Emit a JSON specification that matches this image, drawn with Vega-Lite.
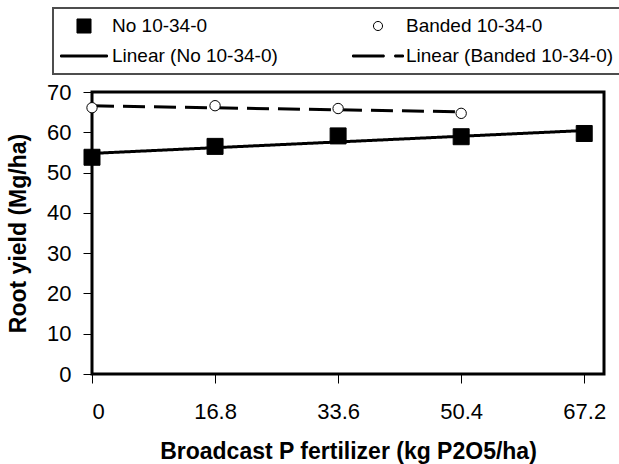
{
  "$schema": "https://vega.github.io/schema/vega-lite/v6.json",
  "width": 512,
  "height": 282,
  "autosize": {"type": "none"},
  "padding": {"left": 92, "top": 92, "right": 15, "bottom": 90},
  "background": "white",
  "config": {
    "view": {"stroke": "black", "strokeWidth": 3},
    "font": "Liberation Sans",
    "axis": {
      "labelFont": "Liberation Sans",
      "labelFontSize": 22,
      "labelColor": "black",
      "titleFont": "Liberation Sans",
      "titleFontSize": 23,
      "titleFontWeight": "bold",
      "titleColor": "black",
      "tickColor": "black",
      "tickWidth": 1,
      "tickSize": 9,
      "domain": false,
      "grid": false
    },
    "legend": {
      "orient": "none",
      "direction": "horizontal",
      "legendX": -39,
      "legendY": -84,
      "columns": 2,
      "padding": 8,
      "strokeColor": "#4d4d4d",
      "strokeWidth": 2,
      "symbolSize": 361,
      "symbolStrokeColor": "black",
      "symbolStrokeWidth": 1,
      "symbolOpacity": 1,
      "symbolOffset": 13,
      "labelFont": "Liberation Sans",
      "labelFontSize": 19,
      "labelColor": "black",
      "labelOffset": 18,
      "labelLimit": 400,
      "rowPadding": 10,
      "columnPadding": 72
    }
  },
  "data": {
    "values": [
      {"p": 0, "yield": 53.8, "series": "No 10-34-0", "trend": "Linear (No 10-34-0)"},
      {"p": 16.8, "yield": 56.5, "series": "No 10-34-0", "trend": "Linear (No 10-34-0)"},
      {"p": 33.6, "yield": 59.1, "series": "No 10-34-0", "trend": "Linear (No 10-34-0)"},
      {"p": 50.4, "yield": 58.9, "series": "No 10-34-0", "trend": "Linear (No 10-34-0)"},
      {"p": 67.2, "yield": 59.7, "series": "No 10-34-0", "trend": "Linear (No 10-34-0)"},
      {"p": 0, "yield": 66.1, "series": "Banded 10-34-0", "trend": "Linear (Banded 10-34-0)"},
      {"p": 16.8, "yield": 66.6, "series": "Banded 10-34-0", "trend": "Linear (Banded 10-34-0)"},
      {"p": 33.6, "yield": 65.9, "series": "Banded 10-34-0", "trend": "Linear (Banded 10-34-0)"},
      {"p": 50.4, "yield": 64.7, "series": "Banded 10-34-0", "trend": "Linear (Banded 10-34-0)"}
    ]
  },
  "encoding": {
    "x": {
      "field": "p",
      "type": "quantitative",
      "scale": {"domain": [0, 69.9], "nice": false, "zero": false},
      "axis": {
        "values": [0, 16.8, 33.6, 50.4, 67.2],
        "format": ".1~f",
        "labelPadding": 18,
        "titlePadding": 18,
        "title": "Broadcast P fertilizer (kg P2O5/ha)"
      }
    },
    "y": {
      "field": "yield",
      "type": "quantitative",
      "scale": {"domain": [0, 70], "nice": false},
      "axis": {
        "values": [0, 10, 20, 30, 40, 50, 60, 70],
        "labelPadding": 12,
        "titlePadding": 16,
        "title": "Root yield (Mg/ha)"
      }
    }
  },
  "layer": [
    {
      "transform": [
        {"regression": "yield", "on": "p", "groupby": ["trend"], "method": "linear"}
      ],
      "mark": {"type": "line", "color": "black", "strokeWidth": 3},
      "encoding": {
        "strokeDash": {
          "field": "trend",
          "type": "nominal",
          "scale": {
            "domain": ["Linear (No 10-34-0)", "Linear (Banded 10-34-0)"],
            "range": [[1, 0], [22, 9]]
          },
          "legend": null
        }
      }
    },
    {
      "mark": {
        "type": "point",
        "filled": true,
        "stroke": "black",
        "strokeWidth": 1,
        "size": 467,
        "opacity": 1
      },
      "encoding": {
        "shape": {
          "field": "series",
          "type": "nominal",
          "scale": {
            "domain": ["No 10-34-0", "Banded 10-34-0", "Linear (No 10-34-0)", "Linear (Banded 10-34-0)"],
            "range": [
              "M-0.74,-0.74H0.74V0.74H-0.74Z",
              "M0.48,0A0.48,0.48,0,1,1,-0.48,0A0.48,0.48,0,1,1,0.48,0Z",
              "M-2.47,-0.105H2.47V0.105H-2.47Z",
              "M-2.68,-0.105H0.65V0.105H-2.68Z M1.76,-0.105H2.68V0.105H1.76Z"
            ]
          },
          "legend": {
            "title": null,
            "encode": {"symbols": {"update": {"stroke": {"value": "black"}, "strokeWidth": {"value": 1}}}}
          }
        },
        "fill": {
          "field": "series",
          "type": "nominal",
          "scale": {
            "domain": ["No 10-34-0", "Banded 10-34-0", "Linear (No 10-34-0)", "Linear (Banded 10-34-0)"],
            "range": ["black", "white", "black", "black"]
          },
          "legend": {
            "title": null,
            "encode": {"symbols": {"update": {"stroke": {"value": "black"}, "strokeWidth": {"value": 1}}}}
          }
        }
      }
    }
  ]
}
